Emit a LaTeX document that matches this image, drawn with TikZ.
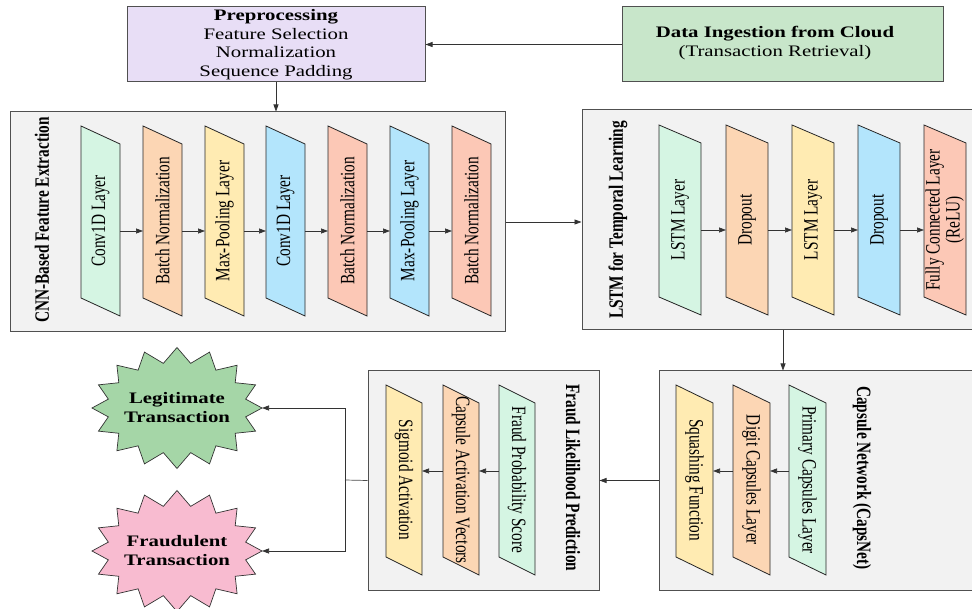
\documentclass[tikz,border=0pt]{standalone}
\usepackage{fontspec}
\setmainfont{Liberation Serif}
\newfontfamily\hfont{Liberation Serif}[FakeStretch=1.3]
\usetikzlibrary{arrows.meta,calc}
\definecolor{prepc}{HTML}{E8DEF6}
\definecolor{ingc}{HTML}{C8E6CA}
\definecolor{secc}{HTML}{F2F2F2}
\definecolor{grn}{HTML}{D5F5E3}
\definecolor{pch}{HTML}{FCD6B4}
\definecolor{ylw}{HTML}{FFEBB2}
\definecolor{blu}{HTML}{B3E5FC}
\definecolor{slm}{HTML}{FCC8B6}
\definecolor{legc}{HTML}{A5D6A7}
\definecolor{frc}{HTML}{F8BBD0}
\definecolor{edge}{HTML}{505050}
\newcommand\vt[1]{\scalebox{1}[1.33]{#1}}
\newcommand\lay[5]{%
  \filldraw[laybox, fill=#3] (#2,\ltop) -- ++(\lw,\ld) -- ++(0,\lh) -- ++(-\lw,-\ld) -- cycle;
  \node[laytxt, rotate=#4] (#1t) at (#2+\lw/2, \ltop+\lh/2+\ld/2) {\vt{#5}};
  \node[anc, minimum width=\lw pt] (#1) at (#2+\lw/2, \larr) {};
}
\newcommand\burstshape[3]{% cx, cy, fill
  \filldraw[draw=black!80, line width=0.7pt, fill=#3]
    plot[samples=33, domain=0:32, variable=\k]
    ({#1+(77.5+7.5*cos(180*\k))*cos(90+11.25*\k)}, {#2+(53+7.5*cos(180*\k))*sin(90+11.25*\k)}) -- cycle;
}
\begin{document}
\begin{tikzpicture}[x=1pt,y=-1pt,
  sec/.style={draw=edge, line width=1pt, fill=secc, inner sep=0pt},
  topbox/.style={draw=edge, line width=1pt, inner sep=0pt},
  laybox/.style={draw=black!85, line width=0.8pt},
  laytxt/.style={font=\fontsize{15.3}{17}\selectfont, inner sep=0pt},
  ttl/.style={font=\fontsize{15.3}{17}\selectfont\bfseries, inner sep=0pt},
  htxt/.style={font=\hfont\fontsize{16}{18.6}\selectfont, align=center, inner sep=0pt},
  anc/.style={inner sep=0pt, outer sep=0pt, minimum height=0pt},
  arr/.style={draw=black!80, line width=0.7pt, -{Triangle[length=7pt,width=5pt]}},
  ln/.style={draw=black!70, line width=0.7pt},
  burst/.style={inner sep=0pt, outer sep=0pt, minimum width=170pt, minimum height=121pt,
     font=\hfont\bfseries\fontsize{16}{19}\selectfont, align=center}
]
\clip (0,0) rectangle (972,609);
\useasboundingbox (0,0) rectangle (972,609);
\fill[white] (0,0) rectangle (972,609);

% top boxes
\node[topbox, fill=prepc, minimum width=298pt, minimum height=75pt, htxt] (prep) at (276,44.5)
  {\textbf{Preprocessing}\\Feature Selection\\Normalization\\Sequence Padding};
\node[topbox, fill=ingc, minimum width=321pt, minimum height=75pt] (ing) at (782.5,44.5) {};
\node[htxt] (ingt) at (775,43) {\textbf{Data Ingestion from Cloud}\\(Transaction Retrieval)};

% section boxes
\node[sec, minimum width=495pt, minimum height=220pt] (cnn) at (257.5,222) {};
\node[sec, minimum width=402pt, minimum height=220pt] (lstm) at (783,220) {};
\node[sec, minimum width=341pt, minimum height=219pt] (caps) at (829.5,480.5) {};
\node[sec, minimum width=231pt, minimum height=219pt] (fraud) at (483.5,480.5) {};

% titles
\node[ttl, rotate=90] (cnnt) at (42,220) {\vt{CNN-Based Feature Extraction}};
\node[ttl, rotate=90] (lstmt) at (618,220) {\vt{LSTM for Temporal Learning}};
\node[ttl, rotate=-90] (capst) at (862,478) {\vt{Capsule Network (CapsNet)}};
\node[ttl, rotate=-90] (fraudt) at (573,478) {\vt{Fraud Likelihood Prediction}};

% CNN layers
\def\ltop{126}\def\lh{172}\def\ld{18}\def\lw{39}\def\larr{231}
\lay{c1}{81}{grn}{90}{Conv1D Layer}
\lay{c2}{143}{pch}{90}{Batch Normalization}
\lay{c3}{205}{ylw}{90}{Max-Pooling Layer}
\lay{c4}{266}{blu}{90}{Conv1D Layer}
\lay{c5}{328}{slm}{90}{Batch Normalization}
\lay{c6}{390}{blu}{90}{Max-Pooling Layer}
\lay{c7}{452}{slm}{90}{Batch Normalization}
\foreach \a/\b in {c1/c2,c2/c3,c3/c4,c4/c5,c5/c6,c6/c7} \draw[arr] (\a.east) -- (\b.west);

% LSTM layers
\def\ltop{125}\def\lh{172}\def\ld{18}\def\lw{42}\def\larr{230}
\lay{l1}{659}{grn}{90}{LSTM Layer}
\lay{l2}{726}{pch}{90}{Dropout}
\lay{l3}{792}{ylw}{90}{LSTM Layer}
\lay{l4}{858}{blu}{90}{Dropout}
\lay{l5}{924}{slm}{90}{\begin{tabular}{@{}c@{}}Fully Connected Layer\\[-2pt](ReLU)\end{tabular}}
\foreach \a/\b in {l1/l2,l2/l3,l3/l4,l4/l5} \draw[arr] (\a.east) -- (\b.west);

% Capsule layers
\def\ltop{385}\def\lh{172}\def\ld{18}\def\lw{37}\def\larr{471}
\lay{p1}{789}{grn}{-90}{Primary Capsules Layer}
\lay{p2}{733}{pch}{-90}{Digit Capsules Layer}
\lay{p3}{676}{ylw}{-90}{Squashing Function}
\draw[arr] (p1.west) -- (p2.east);
\draw[arr] (p2.west) -- (p3.east);

% Fraud layers
\def\lw{36}
\lay{f1}{499}{grn}{-90}{Fraud Probability Score}
\lay{f2}{443}{pch}{-90}{Capsule Activation Vectors}
\lay{f3}{386}{ylw}{-90}{Sigmoid Activation}
\draw[arr] (f1.west) -- (f2.east);
\draw[arr] (f2.west) -- (f3.east);

% starbursts
\burstshape{177}{408}{legc}
\burstshape{177}{551}{frc}
\node[burst] (legit) at (177,408) {Legitimate\\Transaction};
\node[burst] (fraudst) at (177,551) {Fraudulent\\Transaction};

% connectors
\draw[arr] (ing.west) -- (prep.east);
\draw[arr] (prep.south) -- (prep.south |- cnn.north);
\draw[arr] (cnn.east) -- (cnn.east -| lstm.west);
\draw[arr] (lstm.south) -- (lstm.south |- caps.north);
\draw[arr] (caps.west) -- (fraud.east);
\coordinate (j) at (345,480);
\draw[ln] (fraud.west) -- (j);
\draw[arr] (j) |- (legit.east);
\draw[arr] (j) |- (fraudst.east);
\end{tikzpicture}
\end{document}
